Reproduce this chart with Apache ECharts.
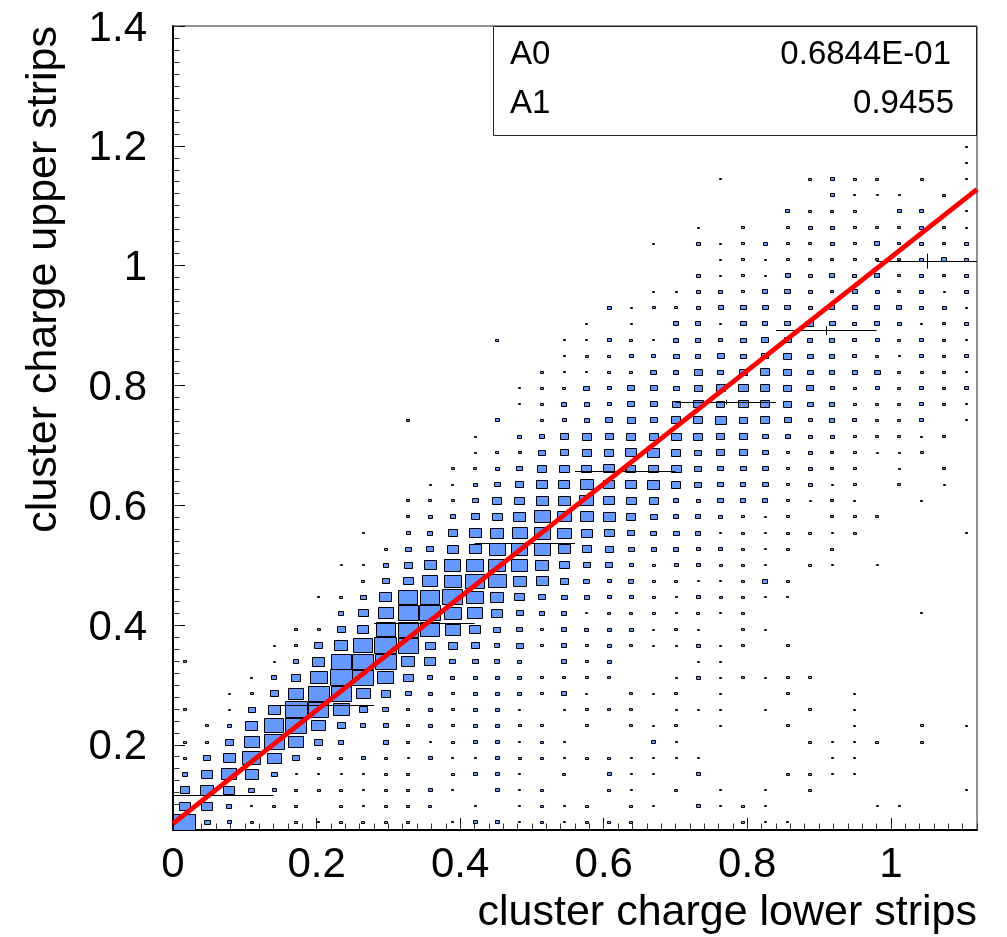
<!DOCTYPE html>
<html>
<head>
<meta charset="utf-8">
<style>html,body{margin:0;padding:0;background:#fff}#c{width:1007px;height:937px}</style>
<script src="https://cdn.jsdelivr.net/npm/echarts@6/dist/echarts.min.js"></script>
</head>
<body>
<div id="c"></div>
<script>
const xTitle = "cluster charge lower strips";
const yTitle = "cluster charge upper strips";
const xMin = 0, xMax = 1.12, yMin = 0.0577, yMax = 1.4;
const xBinCount = 36, yBinCount = 50;
const xMajorTicks = [0, 0.2, 0.4, 0.6, 0.8, 1];
const yMajorTicks = [0.2, 0.4, 0.6, 0.8, 1, 1.2, 1.4];
const fitParams = [["A0", "0.6844E-01"], ["A1", "0.9455"]];
const fitX = [0, 1.12];
const fitY = [0.0684, 1.1273];
// profile: x-range of each slice, mean y and its error
const profileXLow  = [0, 0.14, 0.28, 0.42, 0.56, 0.70, 0.84, 0.98];
const profileXHigh = [0.14, 0.28, 0.42, 0.56, 0.70, 0.84, 0.98, 1.12];
const profileMean  = [0.1161, 0.2658, 0.4037, 0.5372, 0.6568, 0.7720, 0.8917, 1.0074];
const profileError = [0.001, 0.001, 0.001, 0.001, 0.0025, 0.004, 0.0075, 0.0125];
// square root of bin content, relative to a full bin = sqrtFull; one object per y-bin from the bottom, keyed by x-bin
const sqrtFull = 22;
const sqrtContent = [
{0:22,1:6,2:4,3:3,5:3,6:2,7:3,8:3,9:3,10:3,12:2,13:4,14:4,15:2,16:3,17:2,18:3,19:3,20:3,25:3,26:2,27:2},
{0:11,1:11,2:5,3:2,4:3,5:3,7:3,8:2,9:3,10:3,11:3,13:2,15:2,16:3,17:2,18:3,20:3,21:2,23:4,24:2,25:3,26:2,31:2,32:2},
{0:9,1:13,2:11,3:6,4:4,5:3,6:3,7:3,8:2,9:3,10:3,11:4,12:2,14:4,15:2,16:3,19:3,20:2,22:3,24:2,26:2,28:3,35:2},
{0:5,1:11,2:15,3:13,4:6,5:2,6:2,7:2,8:2,9:3,10:3,12:3,13:4,14:4,15:2,17:3,19:4,20:2,21:2,23:4,27:3,28:3,29:2,30:2},
{0:3,1:7,2:12,3:18,4:14,5:7,6:3,7:3,8:4,9:3,10:2,11:4,12:2,13:2,14:4,15:3,16:3,17:2,18:3,19:3,20:2,21:2,22:2,23:2,29:2,30:2},
{0:3,1:3,2:8,3:15,4:20,5:15,6:8,7:5,9:5,10:3,11:2,12:3,13:4,14:4,15:2,16:3,17:2,21:4,22:2,28:3,29:2,30:2,31:3,33:3},
{1:3,2:4,3:12,4:19,5:21,6:14,7:8,8:5,9:5,10:3,11:4,12:3,13:4,14:4,15:3,16:3,18:3,20:3,21:2,22:3,24:2,27:3,30:2,33:3,35:2},
{0:3,2:2,3:7,4:12,5:22,6:20,7:16,8:8,9:6,10:3,11:4,12:3,13:4,14:4,15:2,17:2,18:3,19:3,20:3,22:2,23:2,24:2,26:2,28:3,30:2},
{2:2,3:3,4:8,5:15,6:21,7:20,8:14,9:9,10:6,11:4,12:3,13:4,14:4,15:4,16:3,17:5,18:2,20:3,21:2,22:3,24:2,27:3,30:2},
{3:2,4:5,5:9,6:17,7:22,8:21,9:16,10:10,11:5,12:4,13:4,14:4,15:4,16:3,17:3,18:3,19:3,22:2,23:4,24:2,25:3,26:2,27:3,28:3},
{0:3,4:2,5:5,6:12,7:20,8:21,9:21,10:13,11:11,12:6,13:6,14:5,15:4,17:5,18:3,19:4,23:2,24:2},
{4:2,5:3,6:8,7:13,8:19,9:22,10:20,11:10,12:9,13:8,14:5,15:7,16:3,17:5,18:3,19:4,20:3,21:2,22:2,23:4,24:2,25:3,27:3},
{5:3,6:3,7:8,8:11,9:19,10:20,11:19,12:15,13:11,14:7,15:6,16:3,17:5,18:4,19:4,20:4,21:2,22:3,23:2,25:3,26:2},
{7:5,8:10,9:15,10:20,11:21,12:17,13:15,14:11,15:7,16:5,17:5,18:2,19:3,20:3,21:3,22:2,23:3,24:2,25:3,33:2},
{6:2,7:3,8:6,9:12,10:19,11:19,12:20,13:17,14:13,15:10,16:7,17:6,18:5,19:4,20:4,21:3,22:2,23:4,24:3,25:3,26:2,27:2},
{8:3,9:7,10:10,11:15,12:17,13:19,14:18,15:13,16:12,17:8,18:6,19:4,20:5,21:3,22:3,23:2,24:2,25:3,26:5,27:3},
{7:2,8:2,9:5,10:8,11:12,12:16,13:17,14:17,15:16,16:13,17:10,18:7,19:7,20:4,21:3,22:4,23:4,24:3,25:3,26:2,28:3,29:2,31:2},
{9:3,10:6,11:7,12:11,13:12,14:16,15:16,16:16,17:12,18:9,19:8,20:6,21:5,22:5,23:4,24:4,25:3,26:2,27:3,29:3},
{8:2,10:4,11:5,12:9,13:12,14:13,15:15,16:16,17:14,18:11,19:10,20:7,21:6,22:6,23:5,24:2,25:3,26:2,27:3,28:3,29:2,30:3,35:2},
{10:3,11:4,12:5,13:8,14:10,15:12,16:16,17:14,18:13,19:12,20:9,21:7,22:5,23:5,24:4,25:3,26:2,27:3,29:3,30:3,31:3},
{10:3,11:3,12:3,13:6,14:9,15:10,16:12,17:12,18:14,19:11,20:10,21:9,22:5,23:4,24:6,25:5,26:5,27:3,28:2,29:3,30:2,33:2},
{11:2,12:2,13:4,14:6,15:8,16:11,17:11,18:13,19:11,20:11,21:12,22:9,23:7,24:6,25:5,26:6,27:3,28:4,29:2,30:3,32:3,34:2},
{12:3,13:3,14:4,15:6,16:9,17:10,18:10,19:11,20:9,21:10,22:10,23:7,24:6,25:6,26:6,27:3,28:4,29:3,30:3,32:2,34:3},
{13:2,14:3,15:3,16:7,17:8,18:9,19:9,20:11,21:12,22:9,23:7,24:8,25:8,26:6,27:3,28:4,29:3,30:3,31:2,32:2,33:3},
{13:2,15:4,16:5,17:8,18:9,19:8,20:9,21:9,22:10,23:9,24:8,25:8,26:6,27:5,28:4,29:4,30:3,31:3,32:3,33:2,34:3},
{10:3,14:4,16:3,17:4,18:5,19:7,20:8,21:7,22:9,23:9,24:11,25:8,26:9,27:7,28:4,29:5,30:4,31:3,32:3,33:4,35:2},
{15:2,16:3,17:5,18:5,19:4,20:7,21:7,22:8,23:10,24:8,25:10,26:9,27:8,28:6,29:5,30:3,31:3,32:3,33:4,34:3,35:2},
{15:2,16:3,17:3,18:6,19:4,20:7,21:7,22:6,23:8,24:9,25:10,26:9,27:8,28:7,29:4,30:3,31:4,32:3,33:4,34:3,35:4},
{16:3,17:2,18:2,19:3,20:3,21:6,22:5,23:8,24:6,25:8,26:9,27:8,28:6,29:5,30:5,31:6,32:3,33:3,34:3,35:2},
{17:2,18:3,19:3,20:4,21:4,22:6,23:5,24:7,25:6,26:7,27:8,28:6,29:5,30:4,31:3,32:2,33:4,34:3,35:4},
{14:3,17:2,18:2,19:4,20:3,21:2,22:5,23:5,24:4,25:6,26:7,27:7,28:5,29:5,30:4,31:4,32:3,33:4,34:3,35:2},
{18:2,20:2,22:5,23:5,24:2,25:6,26:5,27:6,28:7,29:6,30:4,31:5,32:4,33:2,34:3,35:4},
{19:4,20:2,21:3,22:3,23:4,24:5,25:6,26:6,27:6,28:4,29:5,30:5,31:5,32:5,33:4,34:4,35:2},
{21:2,22:2,23:4,24:4,25:3,26:5,27:6,28:4,29:3,30:5,31:4,32:3,33:4,34:2,35:4},
{23:4,24:2,25:3,26:2,27:5,28:4,29:5,30:4,31:5,32:3,33:4,34:3,35:4},
{24:2,25:3,26:2,27:3,28:3,29:3,30:3,31:3,32:3,33:4,34:5,35:4},
{21:2,23:4,24:2,25:3,26:4,27:3,28:3,29:4,30:3,31:5,32:3,33:4,34:3,35:4},
{23:2,25:3,27:3,28:4,29:4,30:3,31:3,32:3,33:4,34:3,35:2},
{27:4,28:3,29:3,30:3,32:4,33:4,35:2},
{29:4,30:2,31:2,32:2,34:3},
{24:2,28:3,29:4,30:3,31:3,33:3,35:2},
{35:2},
{35:2}
];

const xBin = (xMax - xMin) / xBinCount, yBin = (yMax - yMin) / yBinCount;
const cellData = [];
sqrtContent.forEach((row, k) => {
  Object.keys(row).forEach(i => {
    cellData.push([xMin + (+i + 0.5) * xBin, yMin + (k + 0.5) * yBin, row[i]]);
  });
});
const minorOf = (lo, hi) => { const a = []; for (let n = Math.ceil(lo / 0.02 - 1e-9); n * 0.02 <= hi + 1e-9; n++) a.push(+(n * 0.02).toFixed(2)); return a; };
const labelFont = "'Liberation Sans', Arial, sans-serif";

const baseAxis = (min, max) => ({ type: 'value', min, max, splitLine: { show: false } });
const lineStyle = { color: '#000', width: 2 };

const chart = echarts.init(document.getElementById('c'), null, { renderer: 'canvas' });
chart.setOption({
  animation: false,
  backgroundColor: '#fff',
  grid: { left: 173, top: 26, width: 804, height: 804, show: true, borderColor: '#222', borderWidth: 1, backgroundColor: 'transparent' },
  xAxis: [
    Object.assign(baseAxis(xMin, xMax), {
      position: 'bottom', name: xTitle, nameLocation: 'end', nameGap: 0,
      nameTextStyle: { fontFamily: labelFont, fontSize: 43, color: '#000', align: 'right', verticalAlign: 'top', padding: [62, 0, 0, 0] },
      axisLine: { show: true, onZero: false, lineStyle },
      axisTick: { show: true, inside: true, length: 12, customValues: xMajorTicks, lineStyle: { color: '#000', width: 1 } },
      axisLabel: { show: true, customValues: xMajorTicks, margin: 14, fontFamily: labelFont, fontSize: 42, color: '#000' }
    }),
    Object.assign(baseAxis(xMin, xMax), {
      position: 'bottom', axisLine: { show: false, onZero: false },
      axisTick: { show: true, inside: true, length: 6.5, customValues: minorOf(xMin, xMax), lineStyle: { color: '#333', width: 1 } },
      axisLabel: { show: false }
    })
  ],
  yAxis: [
    Object.assign(baseAxis(yMin, yMax), {
      position: 'left', name: yTitle, nameLocation: 'end', nameGap: 0, nameRotate: 90,
      nameTextStyle: { fontFamily: labelFont, fontSize: 43, color: '#000', align: 'right', verticalAlign: 'bottom', padding: [0, 0, 107, 0] },
      axisLine: { show: true, onZero: false, lineStyle },
      axisTick: { show: true, inside: true, length: 12, customValues: yMajorTicks, lineStyle: { color: '#000', width: 1 } },
      axisLabel: { show: true, customValues: yMajorTicks, margin: 26, fontFamily: labelFont, fontSize: 42, color: '#000', verticalAlign: 'top', lineHeight: 6 }
    }),
    Object.assign(baseAxis(yMin, yMax), {
      position: 'left', axisLine: { show: false, onZero: false },
      axisTick: { show: true, inside: true, length: 6.5, customValues: minorOf(yMin, yMax), lineStyle: { color: '#333', width: 1 } },
      axisLabel: { show: false }
    })
  ],
  series: [
    {
      type: 'custom', name: 'cells', clip: true, z: 2, silent: true,
      data: cellData, encode: { x: 0, y: 1 },
      renderItem: (params, api) => {
        const c = api.coord([api.value(0), api.value(1)]);
        const s = api.size([xBin, yBin]);
        const f = api.value(2) / sqrtFull;
        const w = Math.max(2, Math.round(s[0] * f)), h = Math.max(1, Math.round(s[1] * f));
        return { type: 'rect', shape: { x: Math.round(c[0] - w / 2) + 0.5, y: Math.round(c[1] - h / 2) + 0.5, width: w, height: h },
                 style: { fill: '#6699ff', stroke: '#000', lineWidth: 1 } };
      }
    },
    {
      type: 'custom', name: 'profile', clip: true, z: 3, silent: true,
      data: profileMean.map((m, i) => [profileXLow[i], profileXHigh[i], m, profileError[i]]),
      encode: { x: [0, 1], y: 2 },
      renderItem: (params, api) => {
        const lo = api.value(0), hi = api.value(1), m = api.value(2), e = api.value(3), mid = (lo + hi) / 2;
        const a = api.coord([lo, m]), b = api.coord([hi, m]), t = api.coord([mid, m + e]), u = api.coord([mid, m - e]);
        const st = { stroke: '#000', lineWidth: 1, fill: null };
        const yy = Math.round(a[1]) + 0.5, xx = Math.round(t[0]) + 0.5;
        return { type: 'group', children: [
          { type: 'line', shape: { x1: a[0], y1: yy, x2: b[0], y2: yy }, style: st },
          { type: 'line', shape: { x1: xx, y1: t[1], x2: xx, y2: u[1] }, style: st }
        ] };
      }
    },
    {
      type: 'line', name: 'fit', z: 4, silent: true, symbol: 'none', clip: true,
      data: fitX.map((x, i) => [x, fitY[i]]),
      lineStyle: { color: '#ff0000', width: 5 }
    }
  ],
  graphic: [
    { type: 'rect', z: 10, shape: { x: 493.5, y: 26.5, width: 483, height: 109 }, style: { fill: '#fff', stroke: '#222', lineWidth: 1 } },
    { type: 'text', z: 11, x: 510, y: 55, style: { text: fitParams[0][0], fontFamily: labelFont, fontSize: 33, fill: '#000', textAlign: 'left', textVerticalAlign: 'middle' } },
    { type: 'text', z: 11, x: 951, y: 55, style: { text: fitParams[0][1], fontFamily: labelFont, fontSize: 33, fill: '#000', textAlign: 'right', textVerticalAlign: 'middle' } },
    { type: 'text', z: 11, x: 510, y: 104, style: { text: fitParams[1][0], fontFamily: labelFont, fontSize: 33, fill: '#000', textAlign: 'left', textVerticalAlign: 'middle' } },
    { type: 'text', z: 11, x: 954, y: 104, style: { text: fitParams[1][1], fontFamily: labelFont, fontSize: 33, fill: '#000', textAlign: 'right', textVerticalAlign: 'middle' } }
  ]
});
</script>
</body>
</html>
